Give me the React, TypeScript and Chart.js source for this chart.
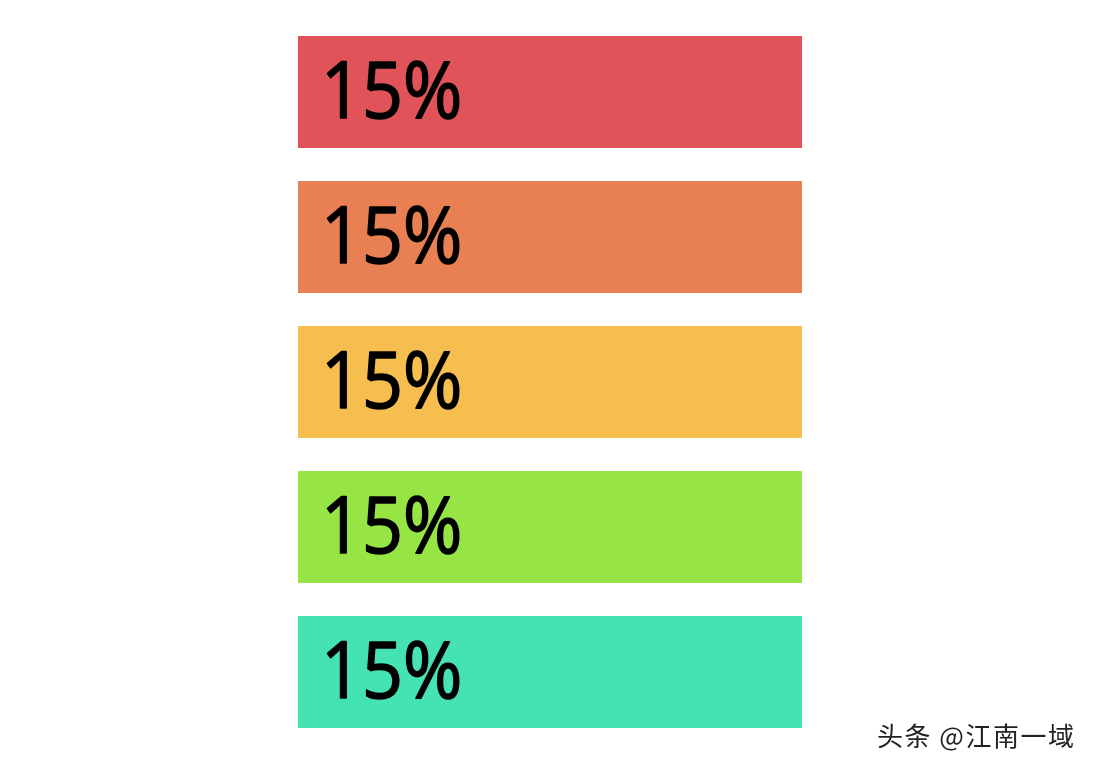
import { useEffect, useRef } from "react";
import { Chart, registerables } from "chart.js";

Chart.register(...registerables);

const categories = ["A", "B", "C", "D", "E"];
const values = [15, 15, 15, 15, 15];
const labels = ["15%", "15%", "15%", "15%", "15%"];
const colors = ["#e05459", "#e88054", "#f5be4e", "#97e445", "#45e3b4"];

const barLabels = {
  id: "barLabels",
  afterDatasetsDraw(chart: Chart) {
    const ctx = chart.ctx;
    const meta = chart.getDatasetMeta(0);
    ctx.save();
    ctx.fillStyle = "#000";
    ctx.strokeStyle = "#000";
    ctx.lineWidth = 1.6;
    ctx.lineJoin = "round";
    ctx.textAlign = "left";
    ctx.textBaseline = "alphabetic";
    ctx.font = '78px "Open Sans"';
    meta.data.forEach((bar: any, i) => {
      const x = bar.base + 23;
      const y = bar.y + 26;
      ctx.save();
      ctx.translate(x, y);
      ctx.scale(0.92, 1);
      ctx.fillText(labels[i], 0, 0);
      ctx.strokeText(labels[i], 0, 0);
      ctx.restore();
    });
    ctx.restore();
  },
};

export default function App() {
  const chartRef = useRef<HTMLCanvasElement>(null);

  useEffect(() => {
    if (!chartRef.current) return;

    const chart = new Chart(chartRef.current, {
      type: "bar",
      data: {
        labels: categories,
        datasets: [
          {
            data: values,
            backgroundColor: colors,
            borderWidth: 0,
            barPercentage: 0.772,
            categoryPercentage: 1,
          },
        ],
      },
      options: {
        indexAxis: "y",
        animation: false,
        responsive: true,
        maintainAspectRatio: false,
        layout: { padding: { left: 298, right: 298, top: 19.5, bottom: 25.5 } },
        plugins: { legend: { display: false }, tooltip: { enabled: false } },
        scales: {
          x: { display: false, min: 0, max: 15 },
          y: { display: false },
        },
      },
      plugins: [barLabels],
    });

    return () => {
      chart.destroy();
    };
  }, []);

  return (
    <div style={{ position: "fixed", left: 0, top: 0, width: 1100, height: 770, background: "#fff" }}>
      <canvas ref={chartRef} />
      <div
        style={{
          position: "absolute",
          left: 877,
          top: 716,
          fontFamily: '"Noto Sans CJK SC", sans-serif',
          fontSize: 26,
          letterSpacing: 1.5,
          color: "#222",
          whiteSpace: "nowrap",
        }}
      >
        头条 @江南一域
      </div>
    </div>
  );
}
